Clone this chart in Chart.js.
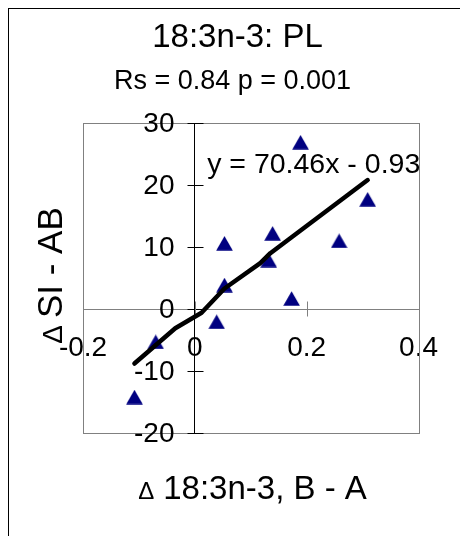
<!DOCTYPE html>
<html>
<head>
<meta charset="utf-8">
<script src="https://cdn.jsdelivr.net/npm/chart.js@4.4.1/dist/chart.umd.min.js"></script>
<style>
  html, body { margin: 0; padding: 0; background: #fff; }
  #chart { display: block; }
</style>
</head>
<body>
<canvas id="chart" width="460" height="536"></canvas>
<script>
// Dati: Δ 18:3n-3 (B - A) contro Δ SI - AB
const xValues = [-0.108, -0.070, 0.039, 0.053, 0.053, 0.132, 0.139, 0.173, 0.189, 0.258, 0.309];
const yValues = [-14.2, -5.3, -2.05, 10.6, 3.87, 7.9, 12.2, 1.7, 26.9, 11.0, 17.7];

// Linea di tendenza come appare nel grafico
const trendX = [-0.108, -0.035, 0.012, 0.053, 0.117, 0.135, 0.309];
const trendY = [-8.8, -3.1, -0.6, 3.3, 7.4, 9.0, 20.8];

// Assi e testi
const xTicks = [-0.2, 0, 0.2, 0.4];
const yTicks = [-20, -10, 0, 10, 20, 30];
const chartTitle = '18:3n-3: PL';
const chartSubtitle = 'Rs = 0.84 p = 0.001';
const equationText = 'y = 70.46x - 0.93';
const xTitle = ['\u0394', '18:3n-3, B - A'];
const yTitle = ['\u0394', 'SI - AB'];

const FONT = '"Liberation Sans", Arial, sans-serif';
const TICK_SIZE = 28;

// Marcatore triangolare (centrato sul suo riquadro, come in Excel)
function makeTriangle() {
    const c = document.createElement('canvas');
    c.width = 17;
    c.height = 15;
    const g = c.getContext('2d');
    g.fillStyle = '#000080';
    g.beginPath();
    g.moveTo(8.5, 0.3);
    g.lineTo(16.8, 14.7);
    g.lineTo(0.2, 14.7);
    g.closePath();
    g.fill();
    return c;
}

function drawDeltaTitle(ctx, parts, cx, baseline, deltaSize, mainSize, gap) {
    ctx.font = deltaSize + 'px ' + FONT;
    const wd = ctx.measureText(parts[0]).width;
    ctx.font = mainSize + 'px ' + FONT;
    const wm = ctx.measureText(parts[1]).width;
    const start = cx - (wd + gap + wm) / 2;
    ctx.textAlign = 'left';
    ctx.textBaseline = 'alphabetic';
    ctx.font = deltaSize + 'px ' + FONT;
    ctx.fillText(parts[0], start, baseline);
    ctx.font = mainSize + 'px ' + FONT;
    ctx.fillText(parts[1], start + wd + gap, baseline);
}

const decorPlugin = {
    id: 'decor',
    beforeDraw(chart) {
        const ctx = chart.ctx;
        ctx.save();
        ctx.fillStyle = '#fff';
        ctx.fillRect(0, 0, chart.width, chart.height);
        // cornice esterna
        ctx.strokeStyle = '#000';
        ctx.lineWidth = 1;
        ctx.strokeRect(8.5, 8.5, chart.width + 20, chart.height + 20);
        ctx.restore();
    },
    beforeDatasetsDraw(chart) {
        const ctx = chart.ctx;
        const area = chart.chartArea;
        const xs = chart.scales.x;
        const ys = chart.scales.y;
        const x0 = Math.round(xs.getPixelForValue(0)) + 0.5;
        const y0 = Math.round(ys.getPixelForValue(0)) + 0.5;
        ctx.save();
        // riquadro dell'area del grafico
        ctx.strokeStyle = '#808080';
        ctx.lineWidth = 1;
        ctx.strokeRect(Math.round(area.left) + 0.5, Math.round(area.top) + 0.5,
            Math.round(area.right - area.left), Math.round(area.bottom - area.top));
        // tacche sull'asse y
        ctx.strokeStyle = '#000';
        yTicks.forEach(v => {
            const py = Math.round(ys.getPixelForValue(v)) + 0.5;
            ctx.beginPath();
            ctx.moveTo(x0 - 8, py);
            ctx.lineTo(x0 + 8, py);
            ctx.stroke();
        });
        // tacche sull'asse x
        ctx.strokeStyle = '#808080';
        xTicks.forEach(v => {
            const px = Math.round(xs.getPixelForValue(v)) + 0.5;
            ctx.beginPath();
            ctx.moveTo(px, y0 - 8);
            ctx.lineTo(px, y0 + 7);
            ctx.stroke();
        });
        // etichette dell'asse y, a sinistra dell'asse in x = 0
        ctx.fillStyle = '#000';
        ctx.font = TICK_SIZE + 'px ' + FONT;
        ctx.textAlign = 'right';
        ctx.textBaseline = 'middle';
        ys.ticks.forEach(t => {
            ctx.fillText(t.label, x0 - 21, ys.getPixelForValue(t.value) + 1);
        });
        ctx.restore();
    },
    afterDraw(chart) {
        const ctx = chart.ctx;
        const xs = chart.scales.x;
        const ys = chart.scales.y;
        ctx.save();
        ctx.fillStyle = '#000';
        ctx.textAlign = 'center';
        ctx.textBaseline = 'alphabetic';
        ctx.font = '33px ' + FONT;
        ctx.fillText(chartTitle, 237.5, 47);
        ctx.font = '27px ' + FONT;
        ctx.fillText(chartSubtitle, 232.5, 89);
        // equazione della retta
        ctx.textAlign = 'left';
        ctx.font = '28.5px ' + FONT;
        ctx.fillText(equationText, xs.getPixelForValue(0.022), ys.getPixelForValue(22.0));
        // titoli degli assi
        drawDeltaTitle(ctx, xTitle, 252.5, 499, 24, 33, 9);
        ctx.translate(62, 275.5);
        ctx.rotate(-Math.PI / 2);
        drawDeltaTitle(ctx, yTitle, 0, 0, 28, 35, 7);
        ctx.restore();
    }
};

const points = xValues.map((x, i) => ({ x: x, y: yValues[i] }));
const trend = trendX.map((x, i) => ({ x: x, y: trendY[i] }));

new Chart(document.getElementById('chart').getContext('2d'), {
    type: 'scatter',
    data: {
        datasets: [
            {
                label: 'Trend',
                data: trend,
                showLine: true,
                borderColor: '#000',
                borderWidth: 4.5,
                borderCapStyle: 'round',
                borderJoinStyle: 'round',
                pointRadius: 0,
                fill: false
            },
            {
                label: '18:3n-3',
                data: points,
                pointStyle: makeTriangle(),
                pointRadius: 8
            }
        ]
    },
    options: {
        responsive: false,
        animation: false,
        layout: { padding: { left: 83, top: 123, right: 36, bottom: 103 } },
        plugins: {
            legend: { display: false },
            tooltip: { enabled: false }
        },
        scales: {
            x: {
                type: 'linear',
                position: { y: 0 },
                min: -0.2,
                max: 0.4,
                afterBuildTicks: scale => { scale.ticks = xTicks.map(v => ({ value: v })); },
                ticks: { font: { family: FONT, size: TICK_SIZE }, color: '#000', padding: 22, maxRotation: 0, autoSkip: false },
                grid: { drawOnChartArea: false, drawTicks: false },
                border: { color: '#808080', width: 1 }
            },
            y: {
                type: 'linear',
                position: { x: 0 },
                min: -20,
                max: 30,
                afterBuildTicks: scale => { scale.ticks = yTicks.map(v => ({ value: v })); },
                ticks: { display: false, autoSkip: false },
                grid: { drawOnChartArea: false, drawTicks: false },
                border: { color: '#000', width: 1 }
            }
        }
    },
    plugins: [decorPlugin]
});
</script>
</body>
</html>
